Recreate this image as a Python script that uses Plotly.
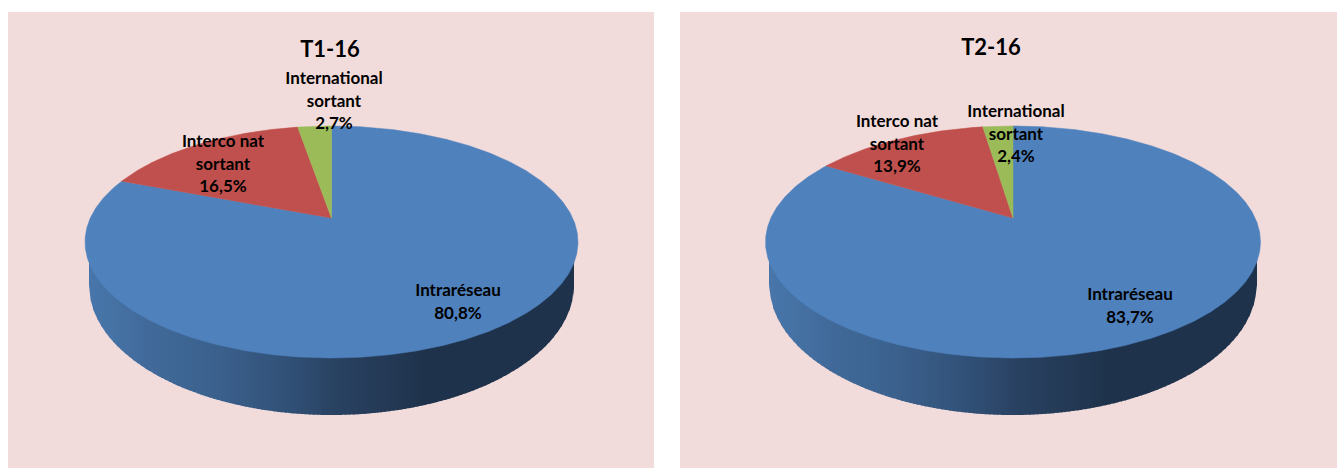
import numpy as np
import plotly.graph_objects as go

CATEGORIES = ["Intraréseau", "Interco nat\nsortant", "International\nsortant"]
TITLES = ["T1-16", "T2-16"]
VALUES_T1 = [80.8, 16.5, 2.7]
VALUES_T2 = [83.7, 13.9, 2.4]
VALUE_TEXT_T1 = ["80,8%", "16,5%", "2,7%"]
VALUE_TEXT_T2 = ["83,7%", "13,9%", "2,4%"]
COLORS = ["#4f81bd", "#c0504d", "#9bbb59"]
PANEL_COLOR = "#f2dcdb"
FONT = "Lato"
LABEL_SIZE = 17
TITLE_SIZE = 22
LINE_PITCH = 22.5
TEXT_DY = 1.0
TITLE_DY = 3.0

W, H = 1337, 468
# panel frames (left, right, top, bottom) and geometry of each pie in pixels
PANELS = [(8, 654, 12, 468), (680, 1337, 12, 468)]
CENTRES = [331.5, 1013]
RX_TOP = [246.5, 247.5]
APEX_Y = 218
UP, DOWN = 92.0, 140.0           # apex to rim, back and front of the disc
K = (DOWN / UP - 1) / (DOWN / UP + 1)   # perspective strength
B = UP * (1 + K)
RY_TOP, CY_TOP = (UP + DOWN) / 2, APEX_Y + (DOWN - UP) / 2
RX_BOT_DELTA = 4.0
RY_BOT, CY_BOT = 130.0, 285.0
BAND = 4
TITLE_POS = [(330, 48), (991, 46)]
LABEL_POS = [
    [(458, 291), (223, 142), (334, 79)],
    [(1130, 295), (897, 122), (1016, 112)],
]
GRADIENT_X = [0.0, 0.12, 0.23, 0.33, 0.43, 0.50, 0.60, 0.69, 1.0]
GRADIENT_RGB = [(72, 118, 170), (65, 106, 154), (60, 99, 144), (54, 89, 130),
                (47, 77, 114), (41, 66, 98), (36, 58, 86), (30, 50, 75), (30, 50, 75)]


def project(theta, cx, rx):
    """Perspective projection of a rim point; theta runs clockwise from the top."""
    a = rx * np.sqrt(1 - K ** 2)
    u, v = np.sin(theta), np.cos(theta)
    den = 1 + K * v
    return cx + a * u / den, APEX_Y - B * v / den


def wall_color(f):
    rgb = [np.interp(f, GRADIENT_X, [c[i] for c in GRADIENT_RGB]) for i in range(3)]
    return "rgb(%d,%d,%d)" % tuple(int(round(c)) for c in rgb)


fig = go.Figure()
series = [(VALUES_T1, VALUE_TEXT_T1), (VALUES_T2, VALUE_TEXT_T2)]
for p, (values, vtext) in enumerate(series):
    xa, ya = ("x", "y") if p == 0 else ("x2", "y2")
    cx, rx = CENTRES[p], RX_TOP[p]
    rxb = rx - RX_BOT_DELTA
    left, right = np.floor(cx - rxb), np.ceil(cx + rxb)

    # side wall: whole-pixel vertical bands with a horizontal gradient, each one
    # running under the next so that no seam shows between them
    edges = np.arange(left, right, BAND)
    for x0 in edges:
        x1 = min(x0 + BAND + 1, right)
        xs = np.linspace(x0, x1, 4)
        ys = CY_BOT + RY_BOT * np.sqrt(np.clip(1 - ((xs - cx) / rxb) ** 2, 0, 1))
        col = wall_color((x0 - left) / (right - left))
        fig.add_trace(go.Scatter(
            x=[x0, *xs, x1], y=[CY_TOP, *ys, CY_TOP], mode="lines", fill="toself",
            fillcolor=col, line=dict(color=col, width=0), hoverinfo="skip",
            showlegend=False, xaxis=xa, yaxis=ya))

    # top of the pie: one wedge per value, clockwise from twelve o'clock
    cum = 0.0
    for i, val in enumerate(values):
        t0, t1 = 2 * np.pi * cum / sum(values), 2 * np.pi * (cum + val) / sum(values)
        cum += val
        th = np.linspace(t0, t1, max(int(val * 8), 12))
        ex, ey = project(th, cx, rx)
        fig.add_trace(go.Scatter(
            x=[cx, *ex, cx], y=[APEX_Y, *ey, APEX_Y], mode="lines", fill="toself",
            fillcolor=COLORS[i], line=dict(color=COLORS[i], width=0.5),
            name=CATEGORIES[i].replace("\n", " "), showlegend=False,
            xaxis=xa, yaxis=ya))

    # data labels, one text mark per line
    for i, cat in enumerate(CATEGORIES):
        lines = cat.split("\n") + [vtext[i]]
        lx, ly = LABEL_POS[p][i]
        fig.add_trace(go.Scatter(
            x=[lx] * len(lines),
            y=[ly + TEXT_DY + n * LINE_PITCH for n in range(len(lines))],
            mode="text", text=lines, textposition="middle center",
            textfont=dict(family=FONT, size=LABEL_SIZE, color="#000000", weight="bold"),
            hoverinfo="skip", showlegend=False, xaxis=xa, yaxis=ya))

    tx, ty = TITLE_POS[p]
    fig.add_trace(go.Scatter(
        x=[tx], y=[ty + TITLE_DY], mode="text", text=[TITLES[p]],
        textposition="middle center",
        textfont=dict(family=FONT, size=TITLE_SIZE, color="#000000", weight="bold"),
        hoverinfo="skip", showlegend=False, xaxis=xa, yaxis=ya))

axis_common = dict(visible=False, showgrid=False, zeroline=False, fixedrange=True)
layout_axes = {}
for p, (l, r, t, b) in enumerate(PANELS):
    sx = "" if p == 0 else "2"
    layout_axes["xaxis" + sx] = dict(domain=[l / W, r / W], range=[l, r], **axis_common)
    layout_axes["yaxis" + sx] = dict(domain=[1 - b / H, 1 - t / H], range=[b, t],
                                     anchor="x" + sx, **axis_common)
fig.update_layout(width=W, height=H, margin=dict(l=0, r=0, t=0, b=0),
                  paper_bgcolor="#ffffff", plot_bgcolor=PANEL_COLOR, **layout_axes)
fig.write_html("out.html", config={"displayModeBar": False},
               post_script="document.body.style.margin='0';")
